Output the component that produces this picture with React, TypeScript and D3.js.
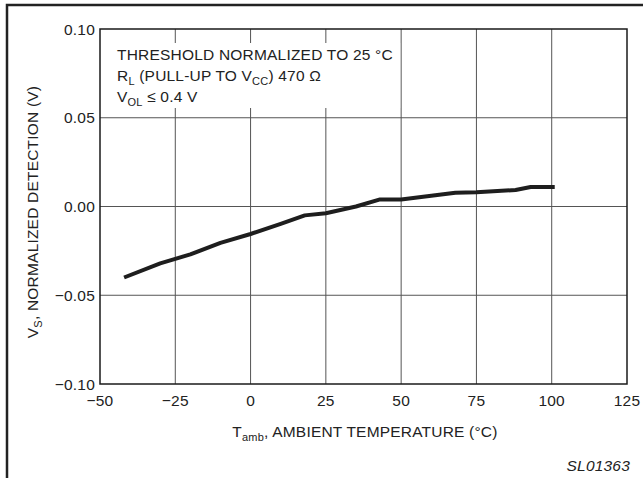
import { useEffect, useRef } from 'react';
import * as d3 from 'd3';

// curve
const tempC = [-42, -30, -20, -10, 0, 10, 18, 25, 35, 43, 50, 60, 68, 75, 88, 93, 101];
const vsNorm = [-0.04, -0.032, -0.027, -0.0205, -0.0155, -0.0098, -0.005, -0.0038, 0.0, 0.004, 0.004, 0.006, 0.0078, 0.008, 0.0093, 0.011, 0.011];

const xTicks = [-50, -25, 0, 25, 50, 75, 100, 125];
const yTicks = [-0.1, -0.05, 0, 0.05, 0.1];

const W = 643;
const H = 478;
const FONT = '"Liberation Sans", Arial, sans-serif';
const FS = 15.5;
const SUB = 11;

export default function App() {
  const svgRef = useRef<SVGSVGElement>(null);

  useEffect(() => {
    const margin = { top: 29, right: 16, bottom: 94, left: 100 };

    const x = d3.scaleLinear().domain([-50, 125]).range([margin.left, W - margin.right]);
    const y = d3.scaleLinear().domain([-0.1, 0.1]).range([H - margin.bottom, margin.top]);

    const svg = d3.select(svgRef.current);
    svg.selectAll('*').remove();

    svg.append('rect').attr('width', W).attr('height', H).attr('fill', '#fff');

    // outer frame (top + left only)
    svg
      .append('path')
      .attr('d', `M7,${H} L7,5 L${W},5`)
      .attr('fill', 'none')
      .attr('stroke', '#222')
      .attr('stroke-width', 2.5);

    // grid
    const grid = svg.append('g').attr('stroke', '#555').attr('stroke-width', 1);
    grid
      .selectAll('line.v')
      .data(xTicks.slice(1, -1))
      .enter()
      .append('line')
      .attr('x1', d => x(d))
      .attr('x2', d => x(d))
      .attr('y1', y(0.1))
      .attr('y2', y(-0.1));
    grid
      .selectAll('line.h')
      .data(yTicks.slice(1, -1))
      .enter()
      .append('line')
      .attr('x1', x(-50))
      .attr('x2', x(125))
      .attr('y1', d => y(d))
      .attr('y2', d => y(d));

    // white box behind the notes
    svg
      .append('rect')
      .attr('x', x(-50) + 1)
      .attr('y', 43)
      .attr('width', x(50) - x(-50) - 2)
      .attr('height', 65)
      .attr('fill', '#fff');

    // plot border
    svg
      .append('rect')
      .attr('x', x(-50))
      .attr('y', y(0.1))
      .attr('width', x(125) - x(-50))
      .attr('height', y(-0.1) - y(0.1))
      .attr('fill', 'none')
      .attr('stroke', '#1a1a1a')
      .attr('stroke-width', 1.5);

    // curve
    const line = d3
      .line<number>()
      .x((_, i) => x(tempC[i]))
      .y(d => y(d));
    svg
      .append('path')
      .datum(vsNorm)
      .attr('d', line)
      .attr('fill', 'none')
      .attr('stroke', '#1e1e1e')
      .attr('stroke-width', 4)
      .attr('stroke-linejoin', 'round');

    const txt = svg
      .append('g')
      .attr('font-family', FONT)
      .attr('fill', '#222')
      .attr('font-size', FS)
      .attr('letter-spacing', 0.2);

    // y tick labels
    txt
      .selectAll('text.yt')
      .data(yTicks)
      .enter()
      .append('text')
      .attr('x', x(-50) - 5)
      .attr('y', d => y(d) + 5.5)
      .attr('text-anchor', 'end')
      .text(d => (d < 0 ? '\u2212' : '') + Math.abs(d).toFixed(2));

    // x tick labels
    txt
      .selectAll('text.xt')
      .data(xTicks)
      .enter()
      .append('text')
      .attr('x', d => x(d))
      .attr('y', 406)
      .attr('text-anchor', 'middle')
      .text(d => (d < 0 ? '\u2212' : '') + Math.abs(d));

    // x title
    const xt = txt.append('text').attr('x', 365).attr('y', 437).attr('text-anchor', 'middle');
    xt.append('tspan').text('T');
    xt.append('tspan').attr('dy', 4).attr('font-size', SUB).text('amb');
    xt.append('tspan').attr('dy', -4).text(', AMBIENT TEMPERATURE (\u00B0C)');

    // y title
    const yt = txt
      .append('text')
      .attr('transform', `translate(38,212) rotate(-90)`)
      .attr('text-anchor', 'middle');
    yt.append('tspan').text('V');
    yt.append('tspan').attr('dy', 4).attr('font-size', SUB).text('S');
    yt.append('tspan').attr('dy', -4).text(', NORMALIZED DETECTION (V)');

    // notes
    const notes = txt.append('g');
    notes.append('text').attr('x', 117).attr('y', 60).text('THRESHOLD NORMALIZED TO 25 \u00B0C');
    const n2 = notes.append('text').attr('x', 117).attr('y', 81);
    n2.append('tspan').text('R');
    n2.append('tspan').attr('dy', 4).attr('font-size', SUB).text('L');
    n2.append('tspan').attr('dy', -4).text(' (PULL-UP TO V');
    n2.append('tspan').attr('dy', 4).attr('font-size', SUB).text('CC');
    n2.append('tspan').attr('dy', -4).text(') 470 \u03A9');
    const n3 = notes.append('text').attr('x', 117).attr('y', 102);
    n3.append('tspan').text('V');
    n3.append('tspan').attr('dy', 4).attr('font-size', SUB).text('OL');
    n3.append('tspan').attr('dy', -4).text(' \u2264 0.4 V');

    // figure id
    txt
      .append('text')
      .attr('x', 630)
      .attr('y', 471)
      .attr('text-anchor', 'end')
      .attr('font-style', 'italic')
      .text('SL01363');
  }, []);

  return (
    <div style={{ position: 'absolute', left: 0, top: 0 }}>
      <svg ref={svgRef} width={W} height={H} style={{ display: 'block' }}></svg>
    </div>
  );
}
